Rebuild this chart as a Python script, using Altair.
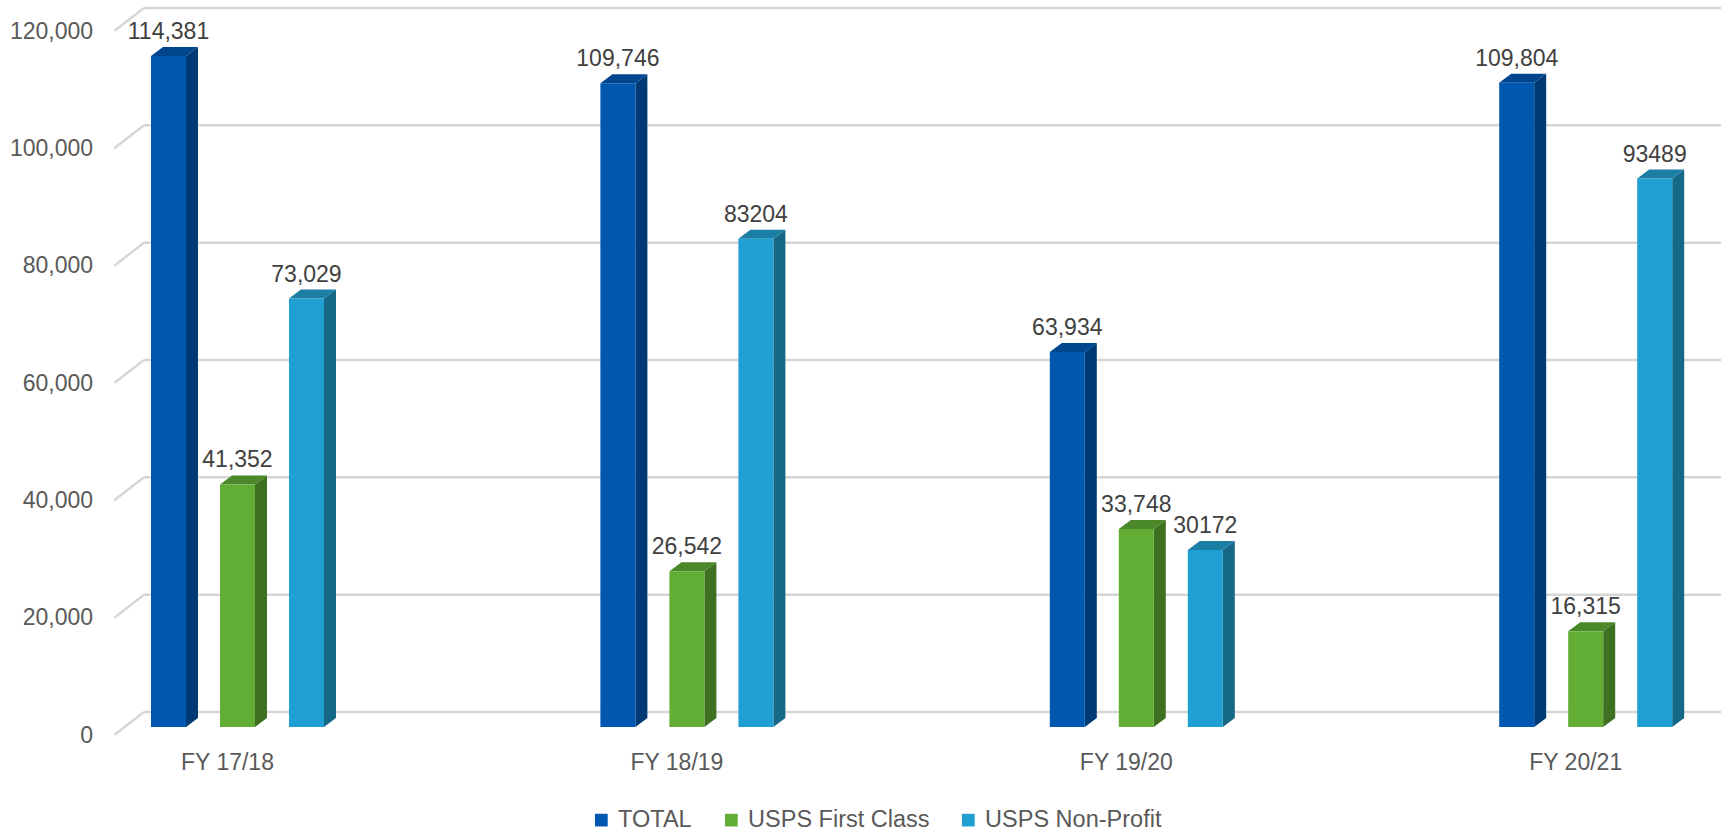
import altair as alt
import pandas as pd

# ---- data ---------------------------------------------------------------
years = ["FY 17/18", "FY 18/19", "FY 19/20", "FY 20/21"]
series = ["TOTAL", "USPS First Class", "USPS Non-Profit"]

total = [114381, 109746, 63934, 109804]
first_class = [41352, 26542, 33748, 16315]
non_profit = [73029, 83204, 30172, 93489]

total_labels = ["114,381", "109,746", "63,934", "109,804"]
first_class_labels = ["41,352", "26,542", "33,748", "16,315"]
non_profit_labels = ["73,029", "83204", "30172", "93489"]

y_ticks = [0, 20000, 40000, 60000, 80000, 100000, 120000]

front_colors = ["#0057B0", "#62AE35", "#20A0D2"]
side_colors = ["#003A74", "#3E7022", "#156886"]
top_colors = ["#00468F", "#4B882A", "#1B7EA5"]

# ---- geometry of the pseudo-3D view ------------------------------------
PLOT_W = 1577
PLOT_H = 704
Y_MAX = 120000
X_MIN, X_MAX = -0.2512, 3.2579          # category units, 1 unit = one category step
PX_PER_X = PLOT_W / (X_MAX - X_MIN)
PX_PER_Y = PLOT_H / Y_MAX

SERIES_STEP = 69 / PX_PER_X              # distance between bars inside a cluster
BAR_W = 35 / PX_PER_X                    # width of the front face
DEPTH_DX = 12 / PX_PER_X                 # bar depth, horizontal part
DEPTH_DY = 9 / PX_PER_Y                  # bar depth, vertical part

# offsets (px) from the bar plane to the floor front edge and to the back wall
FRONT_DX, FRONT_DY = -10.3, 8
BACK_DX, BACK_DY = 19.4, -15

values = [total, first_class, non_profit]
labels = [total_labels, first_class_labels, non_profit_labels]

bar_rows, side_rows, top_rows = [], [], []
for j, name in enumerate(series):
    for i, year in enumerate(years):
        v = values[j][i]
        xc = i + (j - 1) * SERIES_STEP
        xl, xr = xc - BAR_W / 2, xc + BAR_W / 2
        bid = f"{j}-{i}"
        bar_rows.append(dict(year=year, series=name, value=v, label=labels[j][i],
                             xc=xc, xl=xl, xr=xr, base=0))
        side_rows += [
            dict(bid=bid, x=xr, y=v, y2=0, c=side_colors[j]),
            dict(bid=bid, x=xr + DEPTH_DX, y=v + DEPTH_DY, y2=DEPTH_DY, c=side_colors[j]),
        ]
        top_rows += [
            dict(bid=bid, x=xl, y=v, y2=v, c=top_colors[j]),
            dict(bid=bid, x=xl + DEPTH_DX, y=v + DEPTH_DY, y2=v, c=top_colors[j]),
            dict(bid=bid, x=xr, y=v + DEPTH_DY, y2=v, c=top_colors[j]),
            dict(bid=bid, x=xr + DEPTH_DX, y=v + DEPTH_DY, y2=v + DEPTH_DY, c=top_colors[j]),
        ]

bars = pd.DataFrame(bar_rows)
sides = pd.DataFrame(side_rows)
tops = pd.DataFrame(top_rows)
grid = pd.DataFrame({"v": y_ticks, "x0": X_MIN, "x1": X_MAX})
cats = pd.DataFrame({"year": years, "x": list(range(len(years))), "base": 0})

FONT = "Liberation Sans"
GRID = "#D6D6D6"

xs = alt.Scale(domain=[X_MIN, X_MAX], nice=False, zero=False)
ys = alt.Scale(domain=[0, Y_MAX], nice=False)

y_axis = alt.Axis(values=y_ticks, format=",d", title=None, domain=False, ticks=False,
                  tickSize=0, grid=False, labelOffset=FRONT_DY, labelPadding=32,
                  labelFont=FONT, labelFontSize=23, labelColor="#595959")

# back-wall gridlines
back_grid = alt.Chart(grid).mark_rule(
    color=GRID, strokeWidth=2.5,
    xOffset=BACK_DX, x2Offset=BACK_DX, yOffset=BACK_DY, y2Offset=BACK_DY,
).encode(
    x=alt.X("x0:Q", scale=xs, axis=None), x2="x1:Q",
    y=alt.Y("v:Q", scale=ys, axis=y_axis), y2="v:Q",
)

# side-wall diagonals from the front floor edge to the back wall
side_grid = alt.Chart(grid).mark_rule(
    color=GRID, strokeWidth=2.5,
    xOffset=FRONT_DX, yOffset=FRONT_DY, x2Offset=BACK_DX, y2Offset=BACK_DY,
).encode(
    x=alt.X("x0:Q", scale=xs), x2="x0:Q",
    y=alt.Y("v:Q", scale=ys), y2="v:Q",
)

front = alt.Chart(bars).mark_rect().encode(
    x=alt.X("xl:Q", scale=xs), x2="xr:Q",
    y=alt.Y("value:Q", scale=ys), y2="base:Q",
    color=alt.Color(
        "series:N",
        scale=alt.Scale(domain=series, range=front_colors),
        legend=alt.Legend(
            orient="none", legendX=465, legendY=785, direction="horizontal",
            title=None, symbolType="square", symbolSize=161, symbolStrokeWidth=0,
            symbolOpacity=1, labelFont=FONT, labelFontSize=23.5, labelColor="#595959",
            labelOffset=5, labelLimit=400, columnPadding=27, padding=0,
        ),
    ),
)

side_faces = alt.Chart(sides).mark_area(orient="vertical").encode(
    x=alt.X("x:Q", scale=xs), y=alt.Y("y:Q", scale=ys), y2="y2:Q",
    detail="bid:N", color=alt.Color("c:N", scale=None),
)

top_faces = alt.Chart(tops).mark_area(orient="vertical").encode(
    x=alt.X("x:Q", scale=xs), y=alt.Y("y:Q", scale=ys), y2="y2:Q",
    detail="bid:N", color=alt.Color("c:N", scale=None),
)

value_labels = alt.Chart(bars).mark_text(
    font=FONT, fontSize=23, color="#404040", baseline="alphabetic", dy=-17,
).encode(
    x=alt.X("xc:Q", scale=xs), y=alt.Y("value:Q", scale=ys), text="label:N",
)

cat_labels = alt.Chart(cats).mark_text(
    font=FONT, fontSize=23, color="#595959", baseline="middle", dx=-10, dy=36,
).encode(
    x=alt.X("x:Q", scale=xs), y=alt.Y("base:Q", scale=ys), text="year:N",
)

chart = alt.layer(
    back_grid, side_grid, side_faces, top_faces, front, value_labels, cat_labels,
).properties(
    width=PLOT_W, height=PLOT_H,
    autosize=alt.AutoSizeParams(type="none"),
    padding={"left": 124.6, "top": 23, "right": 23.4, "bottom": 105},
    background="white",
).configure_view(stroke=None)

chart.save("out.html", embed_options={"renderer": "svg", "actions": False})
